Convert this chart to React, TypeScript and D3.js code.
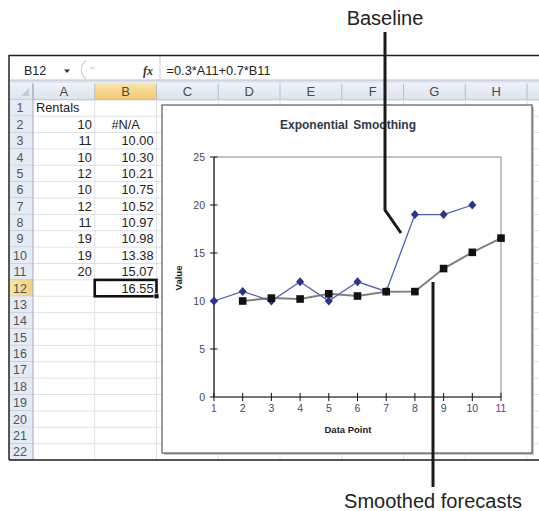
import React from 'react';
import * as d3 from 'd3';

// Worksheet contents
const dataPoints = [1, 2, 3, 4, 5, 6, 7, 8, 9, 10, 11];
const rentals = [10, 11, 10, 12, 10, 12, 11, 19, 19, 20];
const smoothed = [10.0, 10.3, 10.21, 10.75, 10.52, 10.97, 10.98, 13.38, 15.07, 16.55];
const valueTicks = [0, 5, 10, 15, 20, 25];
const columnLetters = ['A', 'B', 'C', 'D', 'E', 'F', 'G', 'H', ''];
const rowNumbers = d3.range(1, 23);
const chartTitle = 'Exponential Smoothing';
const formulaText = '=0.3*A11+0.7*B11';
const cellRef = 'B12';

const FONT = '"Liberation Sans", Arial, Helvetica, sans-serif';

export default function App() {
  const W = 539;
  const H = 511;

  // sheet grid scales
  const colX = d3.scaleLinear().domain([0, 8]).range([33, 527]);
  const rowY = d3.scaleLinear().domain([0, 22]).range([99.8, 460]);
  const rowH = rowY(1) - rowY(0);
  const colW = colX(1) - colX(0);

  // chart scales
  const x = d3.scaleLinear().domain([1, 11]).range([214, 501]);
  const y = d3.scaleLinear().domain([0, 25]).range([397, 157]);

  const baselinePts = rentals.map((v, i) => [dataPoints[i], v] as [number, number]);
  const smoothPts = smoothed.map((v, i) => [dataPoints[i + 1], v] as [number, number]);
  const line = d3
    .line<[number, number]>()
    .x((d) => x(d[0]))
    .y((d) => y(d[1]));

  const selRow = 12;
  const selCol = 1;

  const cellText = (r: number, c: number): { t: string; anchor: string } | null => {
    if (c === 0) {
      if (r === 1) return { t: 'Rentals', anchor: 'start' };
      const v = rentals[r - 2];
      return v !== undefined ? { t: String(v), anchor: 'end' } : null;
    }
    if (c === 1) {
      if (r === 2) return { t: '#N/A', anchor: 'middle' };
      const v = smoothed[r - 3];
      return v !== undefined ? { t: v.toFixed(2), anchor: 'end' } : null;
    }
    return null;
  };

  return (
    <svg
      width={W}
      height={H}
      style={{ position: 'absolute', left: 0, top: 0, background: '#fff' }}
      fontFamily={FONT}
    >
      <defs>
        <linearGradient id="hdr" x1="0" y1="0" x2="0" y2="1">
          <stop offset="0" stopColor="#eef2f7" />
          <stop offset="1" stopColor="#dbe3ec" />
        </linearGradient>
        <linearGradient id="hdrSel" x1="0" y1="0" x2="0" y2="1">
          <stop offset="0" stopColor="#fbe3a8" />
          <stop offset="1" stopColor="#f4c96f" />
        </linearGradient>
        <linearGradient id="rowSel" x1="0" y1="0" x2="1" y2="0">
          <stop offset="0" stopColor="#fbe3a8" />
          <stop offset="1" stopColor="#f4cf80" />
        </linearGradient>
      </defs>

      {/* formula bar */}
      <rect x={9} y={55} width={W - 9} height={25} fill="#ffffff" />
      <rect x={9} y={80} width={W - 9} height={3.5} fill="#dfe5ee" />
      <line x1={9} x2={W} y1={80} y2={80} stroke="#b7c2d0" />
      <text x={24} y={75} fontSize={12.5} fill="#222">
        {cellRef}
      </text>
      <path d="M64,69.5 L70,69.5 L67,73 Z" fill="#333" />
      <path d="M86,61 A11,11 0 0 0 86,79" fill="none" stroke="#c9d0da" strokeWidth={1.2} />
      <path d="M90,68 L95,68" stroke="#c9d0da" strokeWidth={1.2} />
      <text x={143} y={75} fontSize={12} fontStyle="italic" fontWeight="bold" fill="#333" fontFamily="'Liberation Serif', serif">
        fx
      </text>
      <line x1={160} x2={160} y1={56} y2={80} stroke="#c3ccd8" />
      <text x={166.5} y={75} fontSize={12.8} fill="#222">
        {formulaText}
      </text>

      {/* column header row */}
      <rect x={9} y={83.5} width={W - 9} height={rowY(0) - 83.5} fill="url(#hdr)" />
      <rect x={colX(selCol)} y={83.5} width={colW} height={rowY(0) - 83.5} fill="url(#hdrSel)" />
      <path d="M29,96 L29,88 L21,96 Z" fill="#c2cad6" />
      {columnLetters.map((c, i) => (
        <g key={'col' + i}>
          <line x1={colX(i)} x2={colX(i)} y1={83.5} y2={rowY(0)} stroke="#b4bfcc" />
          <text x={colX(i) + colW / 2} y={96} fontSize={13} textAnchor="middle" fill="#4a4a4a">
            {c}
          </text>
        </g>
      ))}
      <line x1={9} x2={W} y1={rowY(0)} y2={rowY(0)} stroke="#b4bfcc" />

      {/* row headers and grid */}
      {rowNumbers.map((r) => (
        <g key={'row' + r}>
          <rect
            x={9}
            y={rowY(r - 1)}
            width={24}
            height={rowH}
            fill={r === selRow ? 'url(#rowSel)' : '#e4ebf4'}
          />
          <line x1={9} x2={33} y1={rowY(r)} y2={rowY(r)} stroke="#b4bfcc" />
          <line x1={33} x2={W} y1={rowY(r)} y2={rowY(r)} stroke="#dde2e9" />
          <text x={20} y={rowY(r - 1) + rowH / 2 + 4.5} fontSize={12.5} textAnchor="middle" fill="#555">
            {r}
          </text>
        </g>
      ))}
      <line x1={33} x2={33} y1={83.5} y2={460} stroke="#9eabbb" />
      {columnLetters.map((c, i) =>
        i === 0 ? null : (
          <line key={'gv' + i} x1={colX(i)} x2={colX(i)} y1={rowY(0)} y2={460} stroke="#dde2e9" />
        )
      )}

      {/* cell values */}
      {rowNumbers.map((r) =>
        [0, 1].map((c) => {
          const ct = cellText(r, c);
          if (!ct) return null;
          const tx =
            ct.anchor === 'start' ? colX(c) + 3 : ct.anchor === 'end' ? colX(c + 1) - 3 : colX(c) + colW / 2;
          return (
            <text
              key={`cell${r}-${c}`}
              x={tx}
              y={rowY(r - 1) + rowH / 2 + 4.5}
              fontSize={12.8}
              textAnchor={ct.anchor}
              fill="#222"
            >
              {ct.t}
            </text>
          );
        })
      )}

      {/* active cell */}
      <rect
        x={colX(selCol)}
        y={rowY(selRow - 1)}
        width={colW}
        height={rowH}
        fill="none"
        stroke="#111"
        strokeWidth={2.6}
      />
      <rect x={colX(selCol + 1) - 2.5} y={rowY(selRow) - 2.5} width={5} height={5} fill="#111" stroke="#fff" strokeWidth={0.8} />

      {/* sheet frame */}
      <line x1={9} x2={W} y1={55.5} y2={55.5} stroke="#222" strokeWidth={1.5} />
      <line x1={9} x2={9} y1={55} y2={460} stroke="#222" strokeWidth={1.5} />
      <line x1={9} x2={W} y1={460} y2={460} stroke="#222" strokeWidth={1.5} />

      {/* embedded chart */}
      <rect x={164} y={107} width={370} height={348} fill="#c8c8c8" />
      <rect x={162} y={105} width={370} height={348} fill="#fff" stroke="#3a3a3a" strokeWidth={1} />
      <text x={348} y={129} fontSize={12} fontWeight="bold" textAnchor="middle" fill="#2c3a4c" wordSpacing={2}>
        {chartTitle}
      </text>

      {/* plot frame */}
      <line x1={x(1)} x2={x(11)} y1={y(25)} y2={y(25)} stroke="#888" strokeWidth={1} />
      <line x1={x(11)} x2={x(11)} y1={y(25)} y2={y(0)} stroke="#888" strokeWidth={1} />

      {/* value axis */}
      <line x1={x(1)} x2={x(1)} y1={y(25)} y2={y(0)} stroke="#111" strokeWidth={1.3} />
      {valueTicks.map((v) => (
        <g key={'yt' + v}>
          <line x1={x(1) - 4} x2={x(1) + 3.5} y1={y(v)} y2={y(v)} stroke="#111" strokeWidth={1} />
          <text x={205} y={y(v) + 3.8} fontSize={10.5} textAnchor="end" fill="#4a4556">
            {v}
          </text>
        </g>
      ))}
      <text
        transform={`translate(182,${(y(0) + y(25)) / 2 + 1}) rotate(-90)`}
        fontSize={9.5}
        fontWeight="bold"
        textAnchor="middle"
        fill="#222"
      >
        Value
      </text>

      {/* category axis */}
      <line x1={x(1)} x2={x(11)} y1={y(0)} y2={y(0)} stroke="#777" strokeWidth={2} />
      {dataPoints.map((p) => (
        <g key={'xt' + p}>
          <line x1={x(p)} x2={x(p)} y1={y(0) - 4} y2={y(0) + 4} stroke="#111" strokeWidth={1} />
          <text
            x={x(p)}
            y={412}
            fontSize={10.5}
            textAnchor="middle"
            fill={p === 1 || p === 11 ? '#8a2a8a' : '#3f4a66'}
          >
            {p}
          </text>
        </g>
      ))}
      <text x={348} y={433} fontSize={9.5} fontWeight="bold" textAnchor="middle" fill="#222">
        Data Point
      </text>

      {/* series */}
      <path d={line(smoothPts) || ''} fill="none" stroke="#7f7f7f" strokeWidth={2} />
      <path d={line(baselinePts) || ''} fill="none" stroke="#4d5fb3" strokeWidth={1.3} />
      {baselinePts.map((d, i) => (
        <path
          key={'bd' + i}
          d={`M${x(d[0])},${y(d[1]) - 4.5} L${x(d[0]) + 4},${y(d[1])} L${x(d[0])},${y(d[1]) + 4.5} L${x(d[0]) - 4},${y(d[1])} Z`}
          fill="#2a338e"
        />
      ))}
      {smoothPts.map((d, i) => (
        <rect key={'sm' + i} x={x(d[0]) - 3.8} y={y(d[1]) - 3.8} width={7.6} height={7.6} fill="#111" />
      ))}

      {/* callouts */}
      <path d="M385,32 L385,210 L401,233" fill="none" stroke="#1a1a1a" strokeWidth={3} />
      <text x={385} y={25} fontSize={20} textAnchor="middle" fill="#222">
        Baseline
      </text>
      <line x1={433} x2={433} y1={282} y2={487} stroke="#1a1a1a" strokeWidth={3} />
      <text x={433} y={508} fontSize={20} textAnchor="middle" fill="#222">
        Smoothed forecasts
      </text>
    </svg>
  );
}
